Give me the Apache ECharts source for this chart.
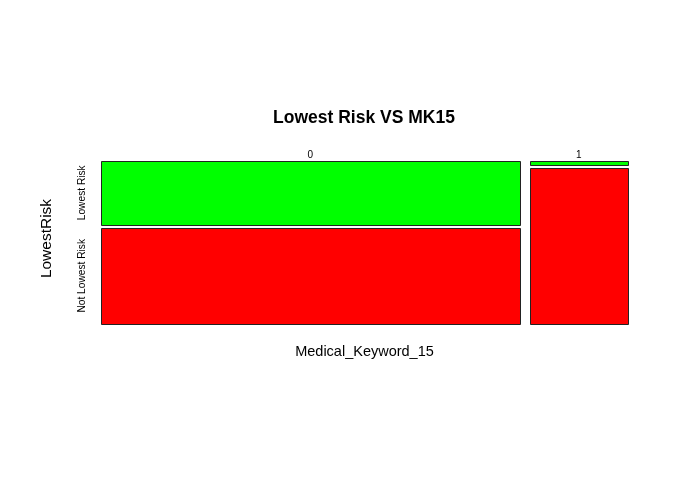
<!DOCTYPE html>
<html>
<head>
<meta charset="utf-8">
<script src="https://cdn.jsdelivr.net/npm/echarts@6/dist/echarts.min.js"></script>
<style>html,body{margin:0;padding:0;background:#fff;}#main{width:695px;height:494px;}</style>
</head>
<body>
<div id="main"></div>
<script>
// Categories
var xCategories = ['0', '1'];                       // Medical_Keyword_15
var yCategories = ['Lowest Risk', 'Not Lowest Risk']; // LowestRisk
// Column (marginal) proportions of Medical_Keyword_15
var colShare = [0.81, 0.19];
// Conditional proportions within each column
var lowestRiskShare = [0.397, 0.022];
var notLowestRiskShare = [0.603, 0.978];

var X_GAP = 0.0194, Y_GAP = 0.0188;
var FONT = 'Liberation Sans, Arial, sans-serif';

var rows = [lowestRiskShare, notLowestRiskShare];
var data = [];
var xStart = 0;
for (var i = 0; i < xCategories.length; i++) {
  var yTop = 1 + Y_GAP;
  for (var j = 0; j < yCategories.length; j++) {
    var h = rows[j][i];
    data.push([xStart, xStart + colShare[i], yTop - h, yTop, i, j]);
    yTop -= h + Y_GAP;
  }
  xStart += colShare[i] + X_GAP;
}
var colors = ['#00ff00', '#ff0000'];

var chart = echarts.init(document.getElementById('main'), null, {renderer: 'canvas'});
chart.setOption({
  backgroundColor: '#ffffff',
  animation: false,
  grid: {left: 101, right: 67, top: 161, bottom: 170},
  xAxis: {type: 'value', min: 0, max: 1 + X_GAP, show: false},
  yAxis: {type: 'value', min: 0, max: 1 + Y_GAP, show: false},
  graphic: [
    {type: 'text', x: 364, y: 118, style: {text: 'Lowest Risk VS MK15', font: 'bold 17.5px ' + FONT, fill: '#000', textAlign: 'center', textVerticalAlign: 'middle'}},
    {type: 'text', x: 364.5, y: 351.5, style: {text: 'Medical_Keyword_15', font: '14.5px ' + FONT, fill: '#000', textAlign: 'center', textVerticalAlign: 'middle'}},
    {type: 'text', x: 46.5, y: 238.5, rotation: Math.PI / 2, style: {text: 'LowestRisk', font: '15.5px ' + FONT, fill: '#000', textAlign: 'center', textVerticalAlign: 'middle'}}
  ],
  series: [{
    type: 'custom',
    data: data,
    renderItem: function (params, api) {
      var x0 = api.value(0), x1 = api.value(1), y0 = api.value(2), y1 = api.value(3);
      var ci = api.value(4), ri = api.value(5);
      var p0 = api.coord([x0, y1]);
      var p1 = api.coord([x1, y0]);
      var children = [{
        type: 'rect',
        shape: {x: Math.round(p0[0]) + 0.5, y: Math.round(p0[1]) + 0.5, width: Math.round(p1[0] - p0[0]), height: Math.max(1, Math.round(p1[1] - p0[1]))},
        style: {fill: colors[ri], stroke: '#222', lineWidth: 1}
      }];
      if (ri === 0) {
        children.push({
          type: 'text',
          x: (p0[0] + p1[0]) / 2, y: p0[1] - 6,
          style: {text: xCategories[ci], font: '10px ' + FONT, fill: '#000', textAlign: 'center', textVerticalAlign: 'middle'}
        });
      }
      if (ci === 0) {
        children.push({
          type: 'text',
          x: 82, y: (p0[1] + p1[1]) / 2, rotation: Math.PI / 2,
          style: {text: yCategories[ri], font: '10.2px ' + FONT, fill: '#000', textAlign: 'center', textVerticalAlign: 'middle'}
        });
      }
      return {type: 'group', children: children};
    }
  }]
});
</script>
</body>
</html>
